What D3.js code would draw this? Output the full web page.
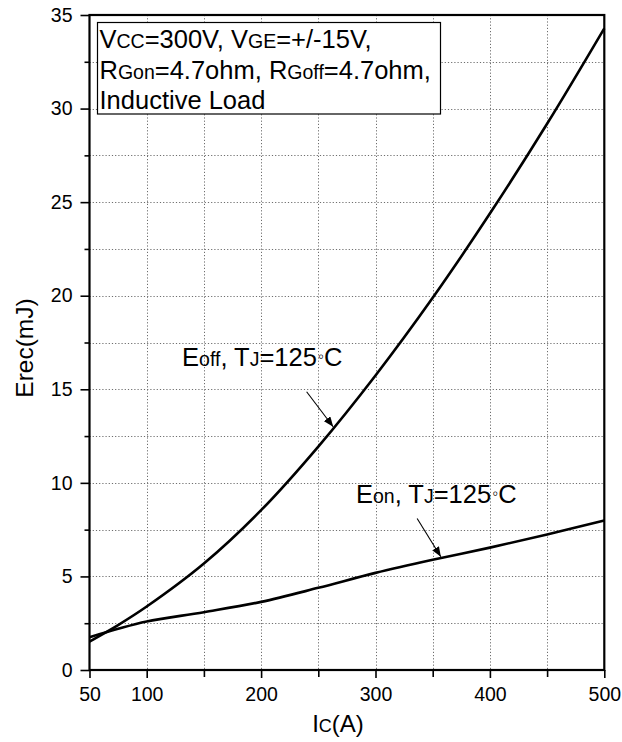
<!DOCTYPE html>
<html>
<head>
<meta charset="utf-8">
<script src="https://cdn.jsdelivr.net/npm/d3@7"></script>
<style>
  html, body { margin: 0; padding: 0; background: #fff; }
  svg { display: block; font-family: "Liberation Sans", Arial, sans-serif; }
</style>
</head>
<body>
<svg id="chart" width="622" height="742"></svg>
<script>
// Collector current (A)
const currentA = [50, 75, 100, 150, 200, 250, 300, 350, 400, 450, 500];
// Turn-off switching energy, Tj = 125 °C (mJ)
const eoffValues = [1.52, 2.4, 3.39, 5.69, 8.54, 11.94, 15.74, 19.89, 24.39, 29.19, 34.29];
// Turn-on switching energy, Tj = 125 °C (mJ)
const eonValues = [1.75, 2.2, 2.59, 3.09, 3.64, 4.39, 5.19, 5.89, 6.54, 7.24, 7.99];

const xTickLabels = [50, 100, 200, 300, 400, 500];
const xMinorTicks = [150, 250, 350, 450];
const xGridValues = [100, 150, 200, 250, 300, 350, 400, 450];
const yTickLabels = [0, 5, 10, 15, 20, 25, 30, 35];
const yMinorTicks = [2.5, 7.5, 12.5, 17.5, 22.5, 27.5, 32.5];
const yGridValues = [2.5, 5, 7.5, 10, 12.5, 15, 17.5, 20, 22.5, 25, 27.5, 30, 32.5];

// Curve annotations: label anchor and arrow (start -> tip), in data units
const curveNotes = [
  { main: "E", sub: "off", label: [130.9, 16.24], from: [239.8, 14.87], to: [263, 13.0] },
  { main: "E", sub: "on",  label: [282.9, 8.92],  from: [336.4, 8.1],   to: [357.1, 6.05] }
];

// Test-condition box lines: [text, isSubscript] runs
const conditionLines = [
  [["V", false], ["CC", true], ["=300V, V", false], ["GE", true], ["=+/-15V,", false]],
  [["R", false], ["Gon", true], ["=4.7ohm, R", false], ["Goff", true], ["=4.7ohm,", false]],
  [["Inductive Load", false]]
];

const svg = d3.select("#chart");
const W = 622, H = 742;
const plotL = 89.5, plotR = 604.3, plotT = 15, plotB = 670;
const mainSize = 25.5, subSize = 19.5;

const x = d3.scaleLinear().domain([50, 500]).range([plotL, plotR]);
const y = d3.scaleLinear().domain([0, 35]).range([plotB, plotT]);

svg.append("rect").attr("width", W).attr("height", H).attr("fill", "#fff");

// dotted grid
const grid = svg.append("g");
grid.selectAll(".gv").data(xGridValues).join("line").attr("class", "gv")
  .attr("x1", d => Math.round(x(d)) + 0.5).attr("x2", d => Math.round(x(d)) + 0.5)
  .attr("y1", plotT).attr("y2", plotB);
grid.selectAll(".gh").data(yGridValues).join("line").attr("class", "gh")
  .attr("y1", d => Math.round(y(d)) + 0.5).attr("y2", d => Math.round(y(d)) + 0.5)
  .attr("x1", plotL).attr("x2", plotR);
grid.selectAll("line")
  .attr("stroke", "#6e6e6e").attr("stroke-width", 1)
  .attr("stroke-dasharray", "1.2,2");

// axes
const xAxis = d3.axisBottom(x).tickValues(xTickLabels).tickSize(8).tickPadding(9)
  .tickFormat(d3.format("d"));
const xMinor = d3.axisBottom(x).tickValues(xMinorTicks).tickSize(7).tickFormat("");
const yAxis = d3.axisLeft(y).tickValues(yTickLabels).tickSize(9).tickPadding(8)
  .tickFormat(d3.format("d"));
const yMinor = d3.axisLeft(y).tickValues(yMinorTicks).tickSize(5).tickFormat("");

function styleAxis(g) {
  g.select(".domain").remove();
  g.selectAll(".tick line").attr("stroke", "#000").attr("stroke-width", 1.6);
  g.selectAll(".tick text").attr("fill", "#000")
    .style("font-size", "19.5px").style("font-family", '"Liberation Sans", Arial, sans-serif');
}
svg.append("g").attr("transform", `translate(0,${plotB})`).call(xAxis).call(styleAxis);
svg.append("g").attr("transform", `translate(0,${plotB})`).call(xMinor).call(styleAxis);
svg.append("g").attr("transform", `translate(${plotL},0)`).call(yAxis).call(styleAxis);
svg.append("g").attr("transform", `translate(${plotL},0)`).call(yMinor).call(styleAxis);

// frame
svg.append("rect").attr("x", plotL).attr("y", plotT)
  .attr("width", plotR - plotL).attr("height", plotB - plotT)
  .attr("fill", "none").attr("stroke", "#000").attr("stroke-width", 2.2);

// curves
const line = d3.line().x(d => x(d[0])).y(d => y(d[1])).curve(d3.curveCatmullRom.alpha(0.5));
[eoffValues, eonValues].forEach(vals => {
  svg.append("path")
    .datum(currentA.map((c, i) => [c, vals[i]]))
    .attr("d", line).attr("fill", "none")
    .attr("stroke", "#000").attr("stroke-width", 2.6);
});

// arrowhead marker
svg.append("defs").append("marker")
  .attr("id", "head").attr("viewBox", "0 0 10 8")
  .attr("refX", 10).attr("refY", 4)
  .attr("markerWidth", 10).attr("markerHeight", 8)
  .attr("markerUnits", "userSpaceOnUse").attr("orient", "auto")
  .append("path").attr("d", "M0,0 L10,4 L0,8 Z").attr("fill", "#000");

// curve labels with arrows
curveNotes.forEach(n => {
  const t = svg.append("text")
    .attr("x", x(n.label[0])).attr("y", y(n.label[1]))
    .attr("fill", "#000").style("font-size", mainSize + "px");
  t.append("tspan").text(n.main);
  t.append("tspan").style("font-size", subSize + "px").text(n.sub);
  t.append("tspan").text(", T");
  t.append("tspan").style("font-size", subSize + "px").text("J");
  t.append("tspan").text("=125");
  t.append("tspan").style("font-size", "17px").attr("dx", 1).attr("dy", -4).text("\u25E6");
  t.append("tspan").attr("dy", 4).text("C");

  svg.append("line")
    .attr("x1", x(n.from[0])).attr("y1", y(n.from[1]))
    .attr("x2", x(n.to[0])).attr("y2", y(n.to[1]))
    .attr("stroke", "#000").attr("stroke-width", 1.1)
    .attr("marker-end", "url(#head)");
});

// test-condition box
svg.append("rect").attr("x", 97.5).attr("y", 22.5).attr("width", 343).attr("height", 91.5)
  .attr("fill", "#fff").attr("stroke", "#000").attr("stroke-width", 1.2);
const baselines = [48, 78.5, 109];
conditionLines.forEach((runs, i) => {
  const t = svg.append("text").attr("x", 99.5).attr("y", baselines[i])
    .attr("fill", "#000").style("font-size", mainSize + "px");
  runs.forEach(([s, isSub]) => {
    const sp = t.append("tspan").text(s);
    if (isSub) sp.style("font-size", subSize + "px");
  });
});

// axis titles
svg.append("text")
  .attr("transform", `translate(33,348) rotate(-90)`)
  .attr("text-anchor", "middle").attr("fill", "#000")
  .style("font-size", "24.5px").text("Erec(mJ)");

const xt = svg.append("text").attr("x", 338).attr("y", 732)
  .attr("text-anchor", "middle").attr("fill", "#000").style("font-size", "24px");
xt.append("tspan").text("I");
xt.append("tspan").style("font-size", "18px").text("C");
xt.append("tspan").text("(A)");
</script>
</body>
</html>
